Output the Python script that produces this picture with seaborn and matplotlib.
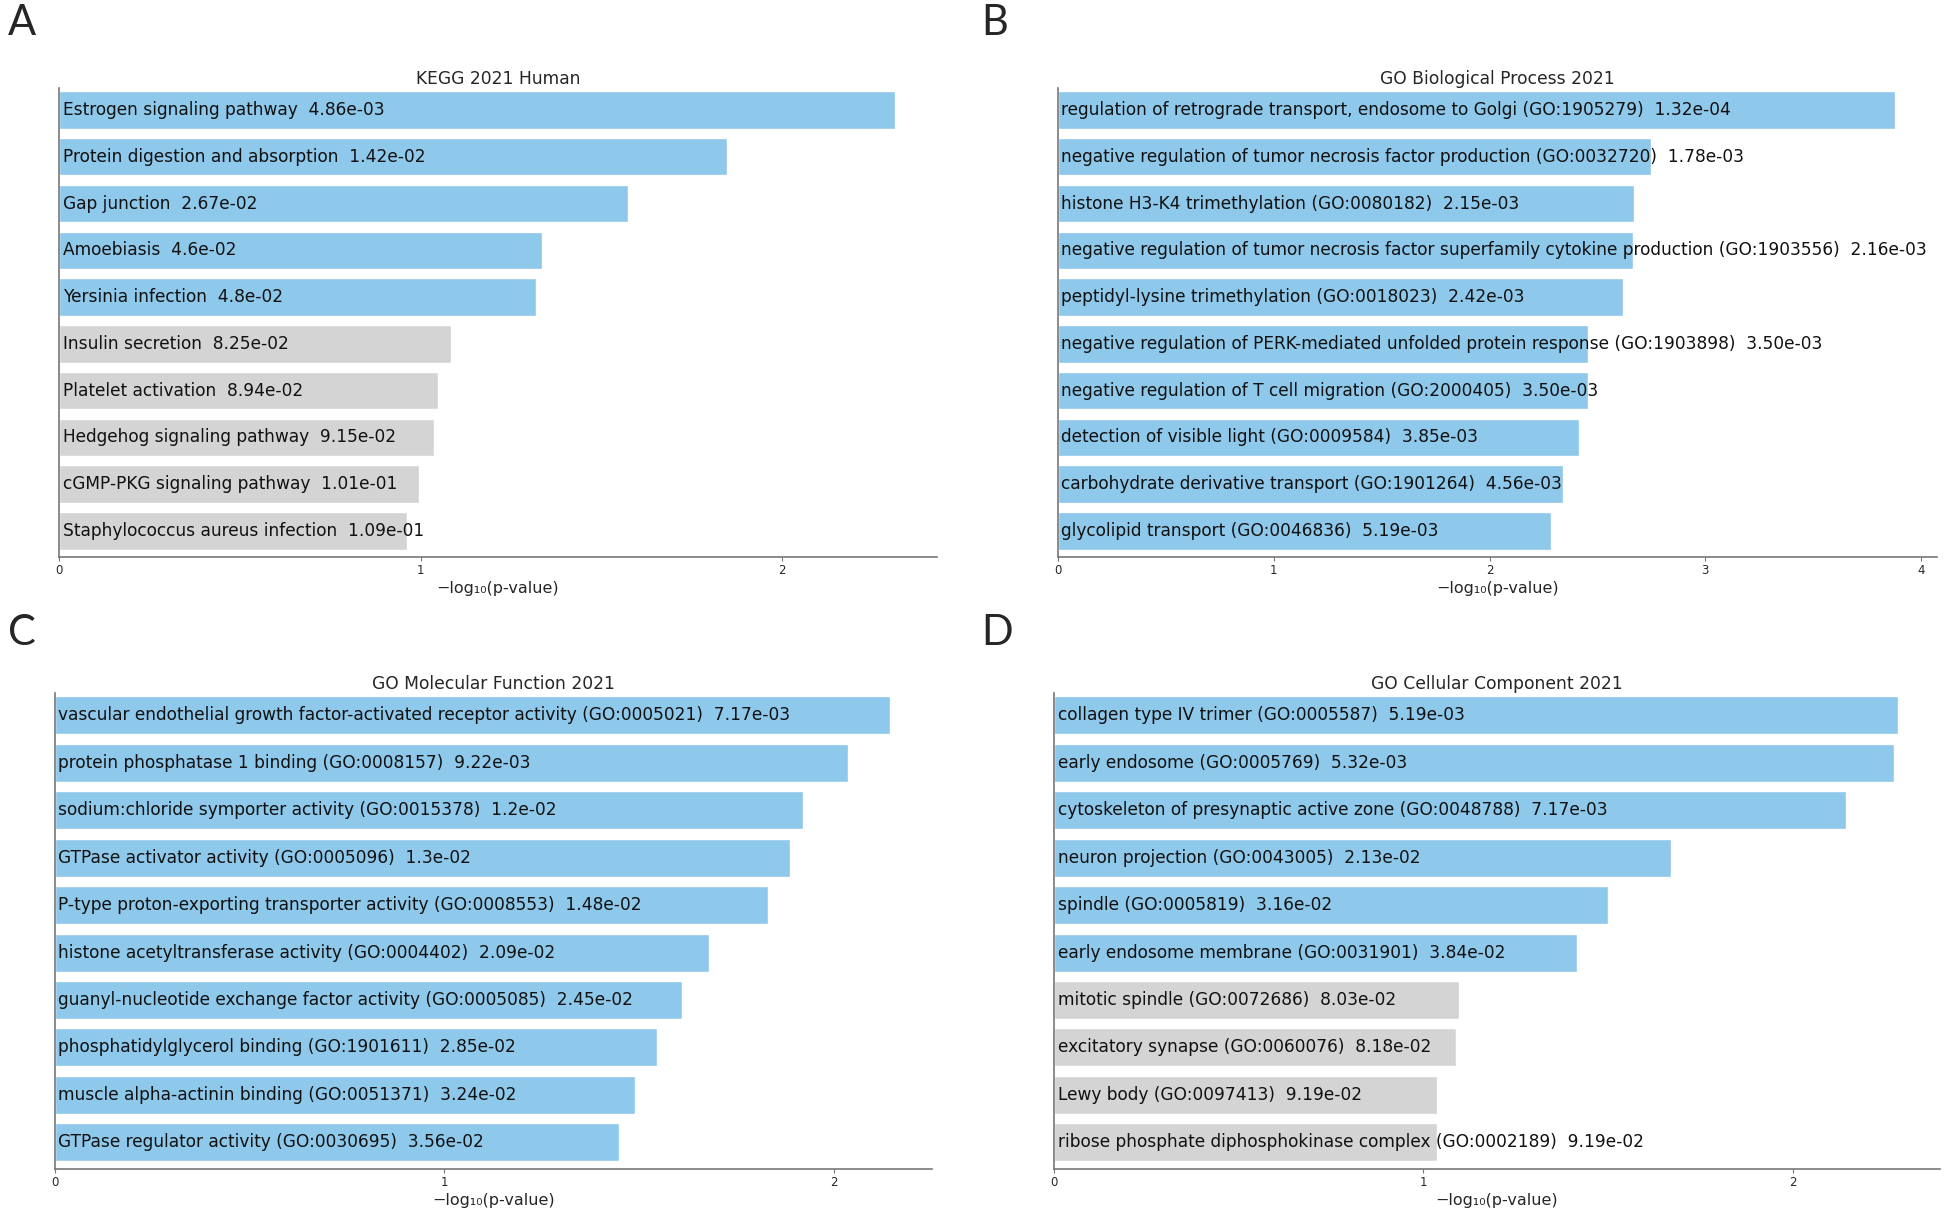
import numpy as np
import pandas as pd
import matplotlib
matplotlib.use("Agg")
import matplotlib.pyplot as plt
import seaborn as sns

# Enrichr results, top 10 terms per library (p-values as printed on the bars)
kegg_terms = ["Estrogen signaling pathway", "Protein digestion and absorption", "Gap junction",
              "Amoebiasis", "Yersinia infection", "Insulin secretion", "Platelet activation",
              "Hedgehog signaling pathway", "cGMP-PKG signaling pathway",
              "Staphylococcus aureus infection"]
kegg_p = ["4.86e-03", "1.42e-02", "2.67e-02", "4.6e-02", "4.8e-02", "8.25e-02", "8.94e-02",
          "9.15e-02", "1.01e-01", "1.09e-01"]

bp_terms = ["regulation of retrograde transport, endosome to Golgi (GO:1905279)",
            "negative regulation of tumor necrosis factor production (GO:0032720)",
            "histone H3-K4 trimethylation (GO:0080182)",
            "negative regulation of tumor necrosis factor superfamily cytokine production (GO:1903556)",
            "peptidyl-lysine trimethylation (GO:0018023)",
            "negative regulation of PERK-mediated unfolded protein response (GO:1903898)",
            "negative regulation of T cell migration (GO:2000405)",
            "detection of visible light (GO:0009584)",
            "carbohydrate derivative transport (GO:1901264)",
            "glycolipid transport (GO:0046836)"]
bp_p = ["1.32e-04", "1.78e-03", "2.15e-03", "2.16e-03", "2.42e-03", "3.50e-03", "3.50e-03",
        "3.85e-03", "4.56e-03", "5.19e-03"]

mf_terms = ["vascular endothelial growth factor-activated receptor activity (GO:0005021)",
            "protein phosphatase 1 binding (GO:0008157)",
            "sodium:chloride symporter activity (GO:0015378)",
            "GTPase activator activity (GO:0005096)",
            "P-type proton-exporting transporter activity (GO:0008553)",
            "histone acetyltransferase activity (GO:0004402)",
            "guanyl-nucleotide exchange factor activity (GO:0005085)",
            "phosphatidylglycerol binding (GO:1901611)",
            "muscle alpha-actinin binding (GO:0051371)",
            "GTPase regulator activity (GO:0030695)"]
mf_p = ["7.17e-03", "9.22e-03", "1.2e-02", "1.3e-02", "1.48e-02", "2.09e-02", "2.45e-02",
        "2.85e-02", "3.24e-02", "3.56e-02"]

cc_terms = ["collagen type IV trimer (GO:0005587)", "early endosome (GO:0005769)",
            "cytoskeleton of presynaptic active zone (GO:0048788)",
            "neuron projection (GO:0043005)", "spindle (GO:0005819)",
            "early endosome membrane (GO:0031901)", "mitotic spindle (GO:0072686)",
            "excitatory synapse (GO:0060076)", "Lewy body (GO:0097413)",
            "ribose phosphate diphosphokinase complex (GO:0002189)"]
cc_p = ["5.19e-03", "5.32e-03", "7.17e-03", "2.13e-02", "3.16e-02", "3.84e-02", "8.03e-02",
        "8.18e-02", "9.19e-02", "9.19e-02"]

titles = ["KEGG 2021 Human", "GO Biological Process 2021",
          "GO Molecular Function 2021", "GO Cellular Component 2021"]
letters = ["A", "B", "C", "D"]

BLUE = "#8ec8ea"
GREY = "#d4d4d4"

sns.set_style("white")

fig = plt.figure(figsize=(19.44, 12.11), dpi=100)

# axes boxes [left, bottom, width, height] in figure fraction
boxes = [[0.0304, 0.5400, 0.4516, 0.3873],
         [0.5442, 0.5400, 0.4522, 0.3873],
         [0.0283, 0.0347, 0.4511, 0.3931],
         [0.5422, 0.0347, 0.4558, 0.3931]]
letter_pos = [(0.004, 0.981), (0.505, 0.981), (0.004, 0.477), (0.505, 0.477)]

panels = [(kegg_terms, kegg_p), (bp_terms, bp_p), (mf_terms, mf_p), (cc_terms, cc_p)]

for k, (terms, ptxt) in enumerate(panels):
    df = pd.DataFrame({"term": terms, "p": [float(s) for s in ptxt]})
    df["score"] = -np.log10(df["p"])
    df["sig"] = df["p"] < 0.05

    ax = fig.add_axes(boxes[k])
    sns.barplot(data=df, x="score", y="term", hue="sig", palette={True: BLUE, False: GREY},
                dodge=False, legend=False, width=0.8, saturation=1, ax=ax)

    for i, (t, s) in enumerate(zip(terms, ptxt)):
        ax.annotate(f"{t}  {s}", xy=(0, i), xytext=(2.5, 0), textcoords="offset points",
                    ha="left", va="center", fontsize=12.25, color="#111111")

    xmax = df["score"].max() * 1.05
    ax.set_xlim(0, xmax)
    ax.set_ylim(9.56, -0.47)
    ax.set_xticks(range(int(xmax) + 1))
    ax.set_yticks([])
    ax.set_ylabel("")
    ax.set_xlabel("−log₁₀(p-value)", fontsize=11.5, labelpad=3)
    ax.set_title(titles[k], fontsize=12.3, pad=3)

    for side in ["top", "right"]:
        ax.spines[side].set_visible(False)
    for side in ["left", "bottom"]:
        ax.spines[side].set_color("#777777")
        ax.spines[side].set_linewidth(1.2)
    ax.tick_params(axis="x", bottom=True, length=3, width=0.8, color="#777777",
                   labelsize=8.5, pad=2)

    fig.text(letter_pos[k][0], letter_pos[k][1], letters[k], fontsize=30,
             family=["Lato", "DejaVu Sans"], ha="left", va="center")

fig.savefig("out.png", dpi=100, facecolor="white")
